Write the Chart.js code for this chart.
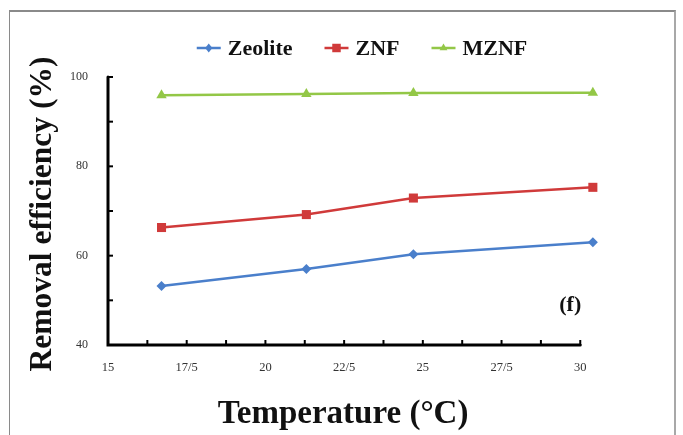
<!DOCTYPE html>
<html>
<head>
<meta charset="utf-8">
<script src="https://cdn.jsdelivr.net/npm/chart.js@4"></script>
<style>
  html, body { margin: 0; padding: 0; background: #fff; }
  #wrap { position: relative; width: 683px; height: 435px; overflow: hidden; background: #fff; }
  #frame { position: absolute; left: 9px; top: 10px; width: 664px; height: 440px;
           border-left: 1px solid #8a8a8a; border-top: 2px solid #8a8a8a; border-right: 2px solid #a8a8a8; }
  #chart { position: absolute; left: 0; top: 0; }
</style>
</head>
<body>
<div id="wrap">
  <div id="frame"></div>
  <canvas id="chart" width="683" height="435"></canvas>
</div>
<script>
// ---- data ----
const temperatures = [16.7, 21.3, 24.7, 30.4];
const zeolite = [53.2, 57.0, 60.3, 63.0];
const znf = [66.3, 69.2, 72.9, 75.3];
const mznf = [95.9, 96.2, 96.4, 96.5];
const seriesNames = ['Zeolite', 'ZNF', 'MZNF'];
const xTickValues = [15, 17.5, 20, 22.5, 25, 27.5, 30];
const xTickLabels = ['15', '17/5', '20', '22/5', '25', '27/5', '30'];
const yTickValues = [40, 60, 80, 100];
const xTitle = 'Temperature (°C)';
const yTitle = 'Removal efficiency (%)';
const panelLabel = '(f)';

const colors = ['#4a7fcb', '#d03a3a', '#93c747'];
const styles = ['rectRot', 'rect', 'triangle'];
const radii = [5, 6.4, 6];
const serif = "'Liberation Serif', 'DejaVu Serif', serif";
const AXIS_END = 30;   // axis line ends at this temperature

function pts(ys) { return temperatures.map((t, i) => ({x: t, y: ys[i]})); }

const seriesValues = [zeolite, znf, mznf];
const datasets = seriesValues.map((vals, i) => ({
  label: seriesNames[i],
  data: pts(vals),
  borderColor: colors[i],
  backgroundColor: colors[i],
  borderWidth: 2.5,
  pointStyle: styles[i],
  pointRadius: radii[i],
  pointBorderWidth: 0,
  pointHoverRadius: radii[i],
  clip: false,
  tension: 0
}));

function marker(ctx, style, x, y, r, color) {
  ctx.save();
  ctx.fillStyle = color;
  ctx.beginPath();
  if (style === 'rect') {
    const s = r * Math.SQRT1_2;
    ctx.rect(x - s, y - s, 2 * s, 2 * s);
  } else if (style === 'rectRot') {
    ctx.moveTo(x, y - r); ctx.lineTo(x + r * 0.8, y); ctx.lineTo(x, y + r); ctx.lineTo(x - r * 0.8, y);
  } else {
    ctx.moveTo(x, y - r); ctx.lineTo(x + r * 0.87, y + r * 0.5); ctx.lineTo(x - r * 0.87, y + r * 0.5);
  }
  ctx.closePath();
  ctx.fill();
  ctx.restore();
}

const decor = {
  id: 'decor',
  beforeDatasetsDraw(chart) {
    const {ctx, chartArea: a, scales: {x, y}} = chart;
    const xEnd = x.getPixelForValue(AXIS_END);
    ctx.save();
    ctx.strokeStyle = '#000';
    ctx.lineCap = 'round';
    ctx.lineWidth = 3;
    ctx.beginPath();
    ctx.moveTo(a.left, a.top); ctx.lineTo(a.left, a.bottom); ctx.lineTo(xEnd, a.bottom);
    ctx.stroke();
    ctx.lineWidth = 2;
    ctx.lineCap = 'butt';
    for (let v = x.min; v <= AXIS_END + 1e-6; v += 1.25) {
      const px = x.getPixelForValue(v);
      ctx.beginPath(); ctx.moveTo(px, a.bottom); ctx.lineTo(px, a.bottom - 5); ctx.stroke();
    }
    for (let v = y.min; v <= y.max + 1e-6; v += 10) {
      const py = y.getPixelForValue(v);
      ctx.beginPath(); ctx.moveTo(a.left, py); ctx.lineTo(a.left + 5, py); ctx.stroke();
    }
    ctx.restore();
  },
  afterDraw(chart) {
    const {ctx, chartArea: a, scales: {x}} = chart;
    const xEnd = x.getPixelForValue(AXIS_END);
    ctx.save();
    // legend
    ctx.font = 'bold 22px ' + serif;
    ctx.textBaseline = 'middle';
    const lineW = 24, gapT = 7, gapI = 32;
    const widths = chart.data.datasets.map(d => ctx.measureText(d.label).width);
    let total = widths.reduce((s, w) => s + lineW + gapT + w, 0) + gapI * (widths.length - 1);
    let sx = 362 - total / 2;
    const ly = 48;
    chart.data.datasets.forEach((d, i) => {
      ctx.strokeStyle = d.borderColor;
      ctx.lineWidth = 2.5;
      ctx.beginPath(); ctx.moveTo(sx, ly); ctx.lineTo(sx + lineW, ly); ctx.stroke();
      marker(ctx, d.pointStyle, sx + lineW / 2, ly, d.pointStyle === 'rect' ? 6 : 4.5, d.borderColor);
      ctx.fillStyle = '#111';
      ctx.textAlign = 'left';
      ctx.fillText(d.label, sx + lineW + gapT, ly + 1);
      sx += lineW + gapT + widths[i] + gapI;
    });
    // panel label
    ctx.font = 'bold 22px ' + serif;
    ctx.textAlign = 'center';
    ctx.fillStyle = '#111';
    ctx.fillText(panelLabel, xEnd - 10, a.bottom - 40);
    // x-axis title, centred under the drawn axis (15..30)
    ctx.font = 'bold 33px ' + serif;
    ctx.fillText(xTitle, (a.left + xEnd) / 2 - 1, 414);
    // y-axis title
    ctx.translate(43, (a.top + a.bottom) / 2 + 3);
    ctx.rotate(-Math.PI / 2);
    ctx.font = 'bold 31.5px ' + serif;
    ctx.fillText(yTitle, 0, 0);
    ctx.restore();
  }
};

new Chart(document.getElementById('chart'), {
  type: 'line',
  data: { datasets },
  options: {
    responsive: false,
    animation: false,
    devicePixelRatio: 1,
    layout: { padding: { left: 0, top: 77, right: 87, bottom: 0 } },
    plugins: { legend: { display: false }, tooltip: { enabled: false } },
    scales: {
      x: {
        type: 'linear', min: 15, max: 30.5,
        grid: { display: false, drawTicks: false },
        border: { display: false },
        afterBuildTicks: (s) => { s.ticks = xTickValues.map(v => ({value: v})); },
        ticks: {
          padding: 15, color: '#333',
          font: { family: serif, size: 12.5 },
          maxRotation: 0, autoSkip: false,
          callback: (v) => xTickLabels[xTickValues.indexOf(v)]
        },
        title: { display: false },
        afterFit: (s) => { s.height = 90; }
      },
      y: {
        min: 40, max: 100,
        grid: { display: false, drawTicks: false },
        border: { display: false },
        afterBuildTicks: (s) => { s.ticks = yTickValues.map(v => ({value: v})); },
        ticks: {
          padding: 20, color: '#333',
          font: { family: serif, size: 12 },
          callback: (v) => String(v)
        },
        title: { display: false },
        afterFit: (s) => { s.width = 108; }
      }
    }
  },
  plugins: [decor]
});
</script>
</body>
</html>
